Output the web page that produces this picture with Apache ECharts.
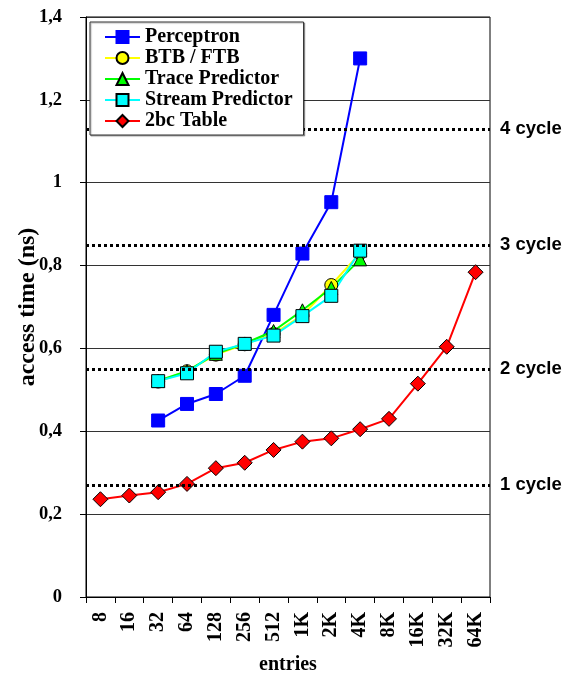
<!DOCTYPE html>
<html>
<head>
<meta charset="utf-8">
<script src="https://cdn.jsdelivr.net/npm/echarts@6/dist/echarts.min.js"></script>
<style>html,body{margin:0;padding:0;background:#fff;}#c{width:575px;height:675px;}</style>
</head>
<body>
<div id="c"></div>
<script>
const categories = ['8','16','32','64','128','256','512','1K','2K','4K','8K','16K','32K','64K'];
const perceptron = [null, null, 0.426, 0.466, 0.490, 0.534, 0.681, 0.829, 0.953, 1.300, null, null, null, null];
const btbFtb     = [null, null, 0.520, 0.545, 0.585, 0.610, 0.635, 0.680, 0.753, 0.830, null, null, null, null];
const tracePred  = [null, null, 0.522, 0.545, 0.587, 0.612, 0.642, 0.692, 0.746, 0.815, null, null, null, null];
const streamPred = [null, null, 0.521, 0.540, 0.592, 0.611, 0.631, 0.678, 0.727, 0.836, null, null, null, null];
const table2bc   = [0.236, 0.245, 0.253, 0.273, 0.311, 0.324, 0.355, 0.375, 0.383, 0.405, 0.430, 0.515, 0.604, 0.784];
const cycleValues = [0.268, 0.55, 0.85, 1.132];
const cycleLabels = ['1 cycle', '2 cycle', '3 cycle', '4 cycle'];
const yTicks = {min: 0, max: 1.4, interval: 0.2};

const serif = 'Liberation Serif';
const chart = echarts.init(document.getElementById('c'));

function lineSeries(name, data, color, symbol, size, border) {
  return {
    name: name, type: 'line', data: data, connectNulls: false,
    symbol: symbol, symbolSize: size,
    lineStyle: {color: color, width: 2},
    itemStyle: {color: color, borderColor: border, borderWidth: 1},
    emphasis: {disabled: true}
  };
}

const series = [
  lineSeries('Perceptron', perceptron, '#0000FF', 'rect', 13, '#0000FF'),
  lineSeries('BTB / FTB', btbFtb, '#FFFF00', 'circle', 13, '#000'),
  lineSeries('Trace Predictor', tracePred, '#00FF00', 'triangle', 13, '#000'),
  lineSeries('Stream Predictor', streamPred, '#00FFFF', 'rect', 13, '#000'),
  lineSeries('2bc Table', table2bc, '#FF0000', 'diamond', 15, '#000')
];
series[4].markLine = {
  silent: true, symbol: 'none', animation: false,
  lineStyle: {color: '#000', width: 3, type: [3, 3]},
  label: {show: true, position: 'end', distance: 10, color: '#000', fontWeight: 'bold', fontSize: 18.5, fontFamily: 'Liberation Sans'},
  data: cycleValues.map((v, i) => ({yAxis: v, label: {formatter: cycleLabels[i]}}))
};

chart.setOption({
  animation: false,
  backgroundColor: '#fff',
  grid: {left: 86, right: 85, top: 17, bottom: 78, show: true, borderColor: '#000', borderWidth: 1,
    containLabel: false, outerBoundsMode: 'none'},
  legend: {
    orient: 'vertical', left: 90, top: 22, z: 20,
    backgroundColor: '#fff', borderColor: '#333', borderWidth: 1,
    padding: [5, 11, 4, 14], itemGap: 1, itemWidth: 35, itemHeight: 15,
    textStyle: {fontFamily: serif, fontWeight: 'bold', fontSize: 20, color: '#000'},
    shadowColor: 'rgba(0,0,0,0.3)', shadowOffsetX: 1, shadowOffsetY: 1, shadowBlur: 1
  },
  xAxis: {
    type: 'category', data: categories, boundaryGap: true,
    name: 'entries', nameLocation: 'middle', nameGap: 58, nameMoveOverlap: false,
    nameTextStyle: {fontFamily: serif, fontWeight: 'bold', fontSize: 20, color: '#000'},
    axisLine: {lineStyle: {color: '#000', width: 1}},
    axisTick: {show: true, length: 6, lineStyle: {color: '#000'}},
    axisLabel: {rotate: 90, margin: 15, interval: 0, fontFamily: serif, fontWeight: 'bold', fontSize: 20, color: '#000'},
    splitLine: {show: false}
  },
  yAxis: {
    type: 'value', min: yTicks.min, max: yTicks.max, interval: yTicks.interval,
    name: 'access time (ns)', nameLocation: 'middle', nameGap: 46, nameMoveOverlap: false,
    nameTextStyle: {fontFamily: serif, fontWeight: 'bold', fontSize: 24, color: '#000'},
    axisLine: {show: true, lineStyle: {color: '#000', width: 1}},
    axisTick: {show: true, length: 6, lineStyle: {color: '#000'}},
    axisLabel: {margin: 24, fontFamily: serif, fontWeight: 'bold', fontSize: 18.5, color: '#000',
      formatter: v => String(Math.round(v * 10) / 10).replace('.', ',')},
    splitLine: {show: true, lineStyle: {color: '#333', width: 1}}
  },
  series: series
});
</script>
</body>
</html>
